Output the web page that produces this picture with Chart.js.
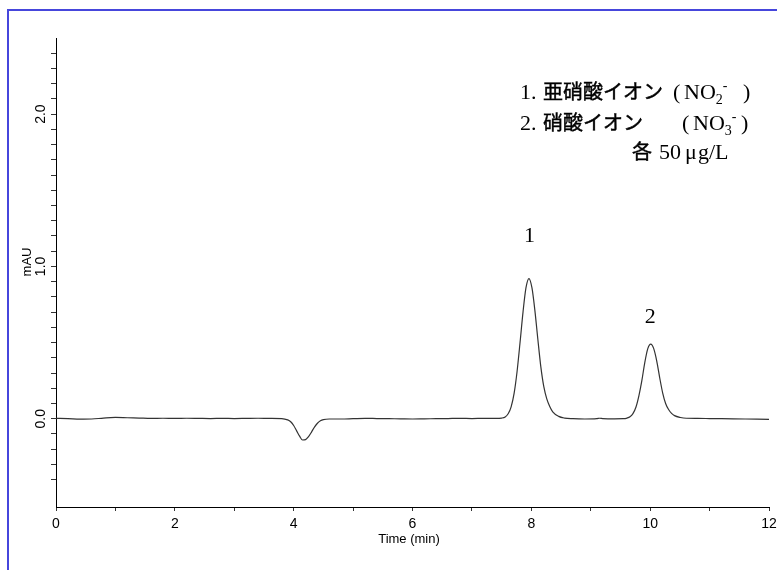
<!DOCTYPE html>
<html>
<head>
<meta charset="utf-8">
<script src="https://cdn.jsdelivr.net/npm/chart.js@4.4.0/dist/chart.umd.min.js"></script>
<style>
  html, body { margin: 0; padding: 0; background: #fff; }
  #wrap { width: 777px; height: 570px; position: relative; }
</style>
</head>
<body>
<div id="wrap"><canvas id="chrom" width="777" height="570"></canvas></div>
<script>
// retention time (min) and detector signal (mAU)
const times = [
  0.0, 0.2, 0.4, 0.6, 0.8, 1.0, 1.2, 1.4, 1.6, 1.8, 2.0, 2.2, 2.4, 2.6, 2.8, 3.0,
  3.2, 3.4, 3.6, 3.8, 3.9, 3.95, 4.0, 4.05, 4.1, 4.15, 4.2, 4.25, 4.3, 4.35, 4.4,
  4.45, 4.5, 4.6, 4.8, 5.0, 5.2, 5.4, 5.6, 5.8, 6.0, 6.2, 6.4, 6.6, 6.8, 7.0, 7.2,
  7.4, 7.5, 7.56, 7.61, 7.66, 7.71, 7.76, 7.81, 7.86, 7.91, 7.96, 8.01, 8.06, 8.11,
  8.16, 8.21, 8.26, 8.31, 8.36, 8.46, 8.56, 8.7, 8.9, 9.1, 9.15, 9.2, 9.4, 9.55,
  9.61, 9.66, 9.71, 9.76, 9.81, 9.86, 9.91, 9.96, 10.01, 10.06, 10.11, 10.16, 10.21,
  10.26, 10.31, 10.36, 10.41, 10.51, 10.61, 10.8, 11.0, 11.2, 11.4, 11.6, 11.8, 12.0
];
const signal = [
  0.002, 0.001, -0.003, -0.002, 0.004, 0.008, 0.006, 0.004, 0.002, 0.003, 0.002, 0.003, 0.002, 0.001, 0.002, 0.001,
  0.002, 0.003, 0.002, 0.001, -0.008, -0.02, -0.045, -0.08, -0.115, -0.14, -0.138, -0.118, -0.088, -0.055, -0.03,
  -0.014, -0.006, -0.002, -0.002, 0.0, 0.002, 0.001, 0.0, -0.001, -0.002, -0.001, 0.0, 0.001, 0.002, 0.001, 0.002,
  0.002, 0.004, 0.011, 0.032, 0.078, 0.166, 0.31, 0.5, 0.7, 0.86, 0.92, 0.86, 0.71, 0.52,
  0.34, 0.21, 0.13, 0.08, 0.045, 0.015, 0.004, 0.0, -0.002, 0.0, 0.003, 0.001, -0.001, 0.0,
  0.004, 0.012, 0.033, 0.075, 0.15, 0.25, 0.37, 0.46, 0.49, 0.46, 0.38, 0.27, 0.17,
  0.1, 0.06, 0.035, 0.02, 0.008, 0.003, 0.002, 0.001, 0.0, -0.001, -0.002, -0.003, -0.004
];

const yTickValues = [];
for (let i = -4; i <= 24; i++) yTickValues.push(i / 10);
const yLabelValues = [0, 1, 2];

const peakLabels = [
  { text: "1", t: 7.97, v: 1.16 },
  { text: "2", t: 10.0, v: 0.63 }
];

const SANS = '"Liberation Sans", Arial, sans-serif';
const SERIF = '"Liberation Serif", "Times New Roman", serif';
const GOTHIC = '"Noto Sans CJK JP", sans-serif';

const overlay = {
  id: "overlay",
  beforeDraw(chart) {
    const ctx = chart.ctx;
    ctx.save();
    ctx.fillStyle = "#fff";
    ctx.fillRect(0, 0, chart.width, chart.height);
    ctx.strokeStyle = "#4646dc";
    ctx.lineWidth = 2;
    ctx.strokeRect(8, 10, chart.width + 20, chart.height + 20);
    ctx.restore();
  },
  afterDraw(chart) {
    const ctx = chart.ctx;
    const xs = chart.scales.x;
    const ys = chart.scales.y;
    ctx.save();
    ctx.fillStyle = "#000";

    // y tick labels, rotated
    ctx.font = "14px " + SANS;
    ctx.textAlign = "center";
    ctx.textBaseline = "middle";
    yLabelValues.forEach((v) => {
      ctx.save();
      ctx.translate(41, ys.getPixelForValue(v));
      ctx.rotate(-Math.PI / 2);
      ctx.fillText(v.toFixed(1), 0, 0);
      ctx.restore();
    });

    // axis titles
    ctx.font = "13px " + SANS;
    ctx.save();
    ctx.translate(27, 262);
    ctx.rotate(-Math.PI / 2);
    ctx.fillText("mAU", 0, 0);
    ctx.restore();
    ctx.fillText("Time (min)", 409, 539);

    // peak numbers
    ctx.font = "22px " + SERIF;
    ctx.textBaseline = "alphabetic";
    peakLabels.forEach((p) => {
      ctx.fillText(p.text, xs.getPixelForValue(p.t), ys.getPixelForValue(p.v));
    });

    // legend text block
    ctx.textAlign = "left";
    ctx.strokeStyle = "#000";
    ctx.lineWidth = 0.45;
    const latin = "22px " + SERIF;
    const small = "14px " + SERIF;
    const put = (str, font, x, y) => {
      ctx.font = font;
      ctx.fillText(str, x, y);
      return x + ctx.measureText(str).width;
    };
    const kana = (str, x, y) => {
      ctx.font = "20px " + GOTHIC;
      ctx.fillText(str, x, y);
      ctx.strokeText(str, x, y);
    };
    const ion = (y, open, nStart, sub, close) => {
      put("(", latin, open, y);
      const nx = put("NO", latin, nStart, y);
      const sx = put(sub, small, nx, y + 5);
      put("-", small, sx, y - 9);
      put(")", latin, close, y);
    };
    put("1.", latin, 520, 99);
    kana("亜硝酸イオン", 543, 99);
    ion(99, 673, 684, "2", 743);
    put("2.", latin, 520, 130);
    kana("硝酸イオン", 543, 130);
    ion(130, 682, 693, "3", 741);
    kana("各", 632, 159);
    put("50", latin, 659, 159);
    put("μ", latin, 685, 159);
    put("g/L", latin, 698, 159);
    ctx.restore();
  }
};

new Chart(document.getElementById("chrom"), {
  type: "line",
  data: {
    datasets: [{
      data: times.map((t, i) => ({ x: t, y: signal[i] })),
      borderColor: "#333",
      borderWidth: 1.2,
      pointRadius: 0,
      fill: false,
      cubicInterpolationMode: "monotone"
    }]
  },
  options: {
    responsive: false,
    animation: false,
    events: [],
    layout: { padding: { top: 38, right: 8, left: 0, bottom: 0 } },
    plugins: { legend: { display: false }, tooltip: { enabled: false } },
    scales: {
      x: {
        type: "linear",
        min: 0,
        max: 12,
        afterFit: (s) => { s.height = 63; s.paddingLeft = 0; s.paddingRight = 0; },
        border: { display: true, color: "#000", width: 1 },
        grid: { drawOnChartArea: false, drawTicks: true, tickLength: 4, color: "#333" },
        ticks: {
          stepSize: 1,
          autoSkip: false,
          maxRotation: 0,
          padding: 5,
          color: "#000",
          font: { family: SANS, size: 14 },
          callback: (v) => (v % 2 === 0 ? String(v) : "")
        }
      },
      y: {
        type: "linear",
        min: -0.58,
        max: 2.5,
        afterFit: (s) => { s.width = 56; s.paddingTop = 0; s.paddingBottom = 0; },
        afterBuildTicks: (s) => { s.ticks = yTickValues.map((v) => ({ value: v })); },
        border: { display: true, color: "#000", width: 1 },
        grid: { drawOnChartArea: false, drawTicks: true, tickLength: 5, color: "#333" },
        ticks: { display: false }
      }
    }
  },
  plugins: [overlay]
});
</script>
</body>
</html>
